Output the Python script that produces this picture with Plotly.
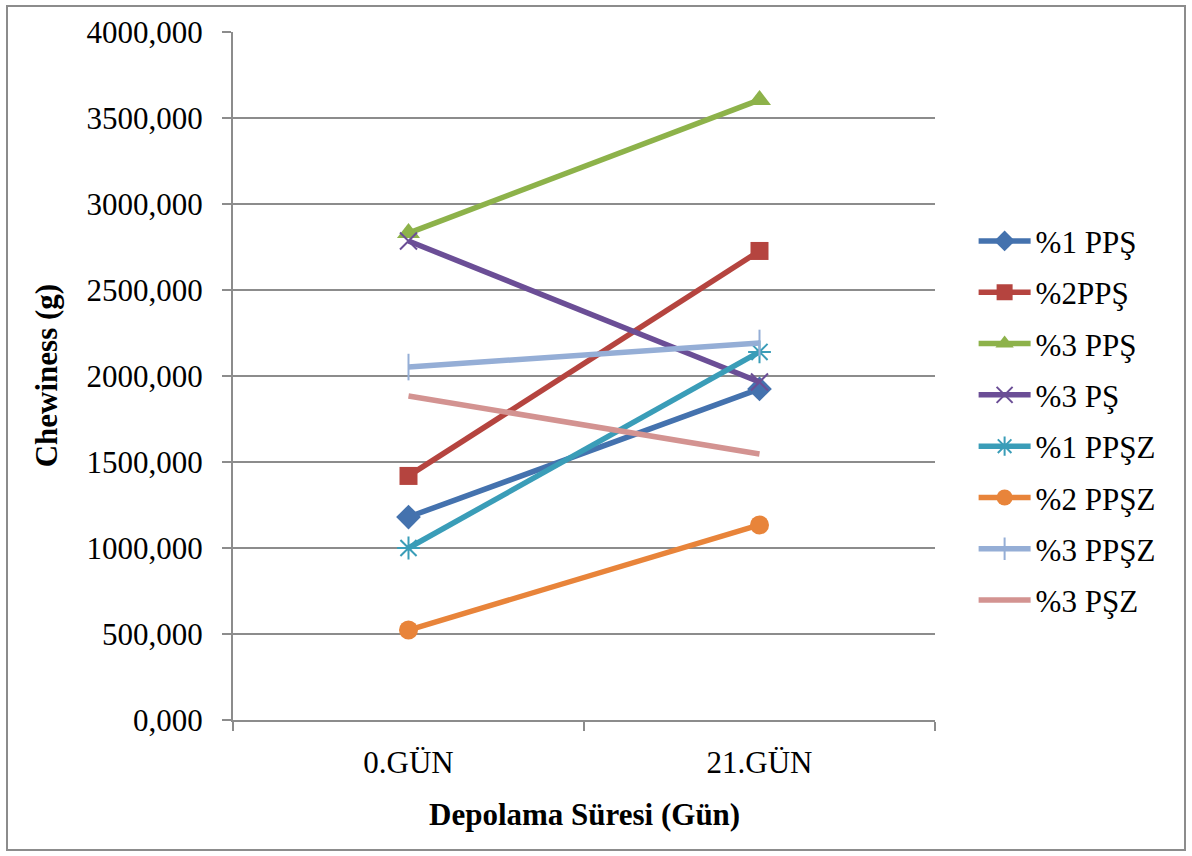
import plotly.graph_objects as go

# Storage day categories
days = ["0.GÜN", "21.GÜN"]

# Chewiness (g) per formulation
pps_1 = [1180, 1925]
pps_2 = [1419, 2727]
pps_3 = [2831, 3605]
ps_3 = [2785, 1965]
ppsz_1 = [1000, 2140]
ppsz_2 = [523, 1134]
ppsz_3 = [2052, 2192]
psz_3 = [1884, 1547]

y_ticks = [0, 500, 1000, 1500, 2000, 2500, 3000, 3500, 4000]
y_tick_text = ["0,000", "500,000", "1000,000", "1500,000", "2000,000",
               "2500,000", "3000,000", "3500,000", "4000,000"]

series = [
    ("%1 PPŞ", pps_1, "#4472AE", dict(symbol="diamond", size=19)),
    ("%2PPŞ", pps_2, "#B5443F", dict(symbol="square", size=18)),
    ("%3 PPŞ", pps_3, "#8DB24A", dict(symbol="triangle-up", size=20)),
    ("%3 PŞ", ps_3, "#6B4E96", dict(symbol="x-thin-open", size=17, line=dict(width=2))),
    ("%1 PPŞZ", ppsz_1, "#3A9DB8", dict(symbol="asterisk-open", size=19, line=dict(width=2))),
    ("%2 PPŞZ", ppsz_2, "#E8843A", dict(symbol="circle", size=19)),
    ("%3 PPŞZ", ppsz_3, "#95AED6", dict(symbol="line-ns-open", size=19, line=dict(width=2))),
    ("%3 PŞZ", psz_3, "#D39391", None),
]

FONT = "Liberation Serif, Times New Roman, serif"

fig = go.Figure()
for i, (name, vals, color, marker) in enumerate(series):
    if marker is None:
        fig.add_trace(go.Scatter(x=days, y=vals, name=name, mode="lines",
                                 line=dict(color=color, width=5.5),
                                 legendgroup=f"g{i}"))
    else:
        m = dict(color=color, **{k: v for k, v in marker.items() if k != "line"})
        if "line" in marker:
            m["line"] = dict(color=color, width=marker["line"]["width"])
        fig.add_trace(go.Scatter(x=days, y=vals, name=name, mode="lines+markers",
                                 line=dict(color=color, width=5.5), marker=m,
                                 legendgroup=f"g{i}"))

fig.update_layout(
    width=1192, height=856,
    margin=dict(l=233, r=257, t=32, b=136),
    paper_bgcolor="white", plot_bgcolor="white",
    font=dict(family=FONT, size=31, color="black"),
    showlegend=True,
    legend=dict(x=1.055, y=0.735, xanchor="left", yanchor="top",
                font=dict(family=FONT, size=31, color="black"),
                tracegroupgap=8, itemwidth=52, bgcolor="rgba(0,0,0,0)"),
    xaxis=dict(type="category", range=[-0.5, 1.5], tickson="boundaries",
               showgrid=False, showline=True, linecolor="#8C8C8C", linewidth=2,
               ticks="outside", ticklen=9, tickwidth=2, tickcolor="#8C8C8C",
               ticklabelstandoff=14,
               tickfont=dict(family=FONT, size=31, color="black"), zeroline=False),
    yaxis=dict(range=[0, 4000], tickvals=y_ticks, ticktext=y_tick_text,
               showgrid=True, gridcolor="#8C8C8C", gridwidth=2,
               showline=True, linecolor="#8C8C8C", linewidth=2,
               ticks="outside", ticklen=9, tickwidth=2, tickcolor="#8C8C8C",
               ticklabelstandoff=13,
               tickfont=dict(family=FONT, size=31, color="black"), zeroline=False),
    annotations=[
        dict(text="<b>Depolama Süresi (Gün)</b>", xref="paper", yref="paper",
             x=0.5, y=-0.138, xanchor="center", yanchor="middle", showarrow=False,
             font=dict(family=FONT, size=31, color="black")),
        dict(text="<b>Chewiness (g)</b>", xref="paper", yref="paper",
             x=-0.266, y=0.5, xanchor="center", yanchor="middle", showarrow=False,
             textangle=-90, font=dict(family=FONT, size=31, color="black")),
    ],
    shapes=[
        dict(type="rect", xref="paper", yref="paper",
             x0=(7 - 233) / 702, x1=(1185 - 233) / 702,
             y0=(720 - 850) / 688, y1=(720 - 6) / 688,
             line=dict(color="#8C8C8C", width=2), layer="below"),
    ],
)

fig.write_html("out.html")
